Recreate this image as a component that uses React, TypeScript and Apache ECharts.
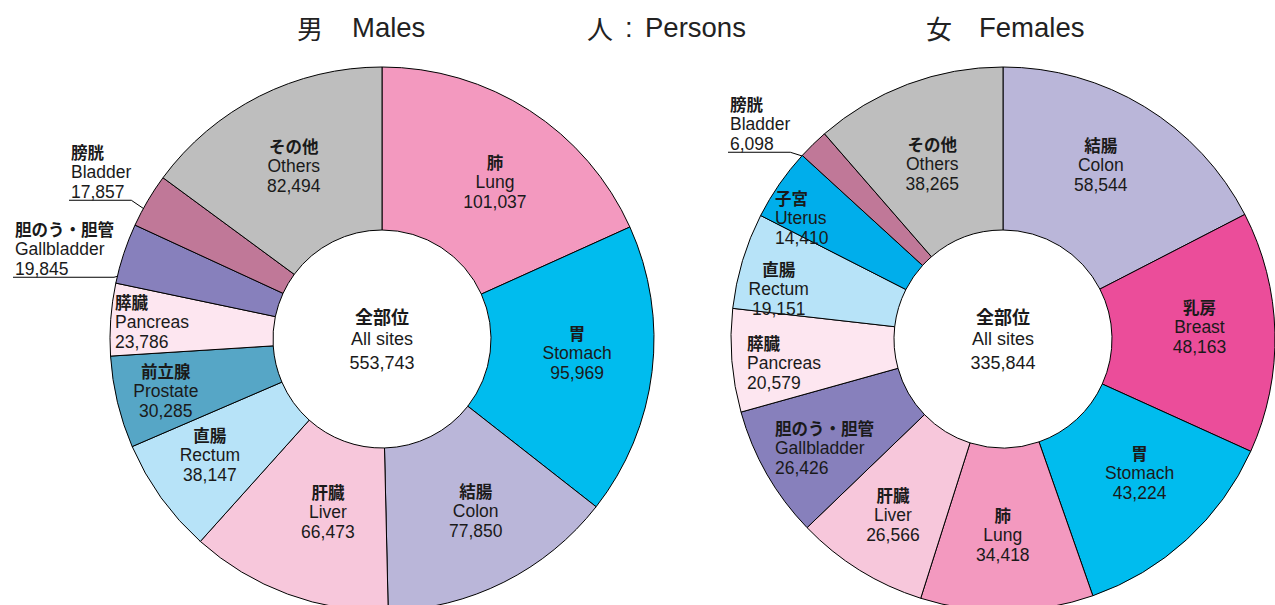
import React, { useEffect, useRef } from "react";
import * as echarts from "echarts";

// ---------- Data ----------
const maleSitesJa = ["肺", "胃", "結腸", "肝臓", "直腸", "前立腺", "膵臓", "胆のう・胆管", "膀胱", "その他"];
const maleSitesEn = ["Lung", "Stomach", "Colon", "Liver", "Rectum", "Prostate", "Pancreas", "Gallbladder", "Bladder", "Others"];
const maleCases = [101037, 95969, 77850, 66473, 38147, 30285, 23786, 19845, 17857, 82494];

const femaleSitesJa = ["結腸", "乳房", "胃", "肺", "肝臓", "胆のう・胆管", "膵臓", "直腸", "子宮", "膀胱", "その他"];
const femaleSitesEn = ["Colon", "Breast", "Stomach", "Lung", "Liver", "Gallbladder", "Pancreas", "Rectum", "Uterus", "Bladder", "Others"];
const femaleCases = [58544, 48163, 43224, 34418, 26566, 26426, 20579, 19151, 14410, 6098, 38265];

const centerLabelJa = "全部位";
const centerLabelEn = "All sites";

// ---------- Styles / layout ----------
const siteColors: Record<string, string> = {
  Lung: "#F399BF",
  Stomach: "#00BCEE",
  Colon: "#BAB6D9",
  Liver: "#F7C7DB",
  Rectum: "#B7E3F8",
  Prostate: "#56A6C6",
  Pancreas: "#FDE6F0",
  Gallbladder: "#8780BC",
  Bladder: "#C07898",
  Others: "#BEBEBE",
  Breast: "#EB4D9A",
  Uterus: "#00AEEB",
};

const OUTER_R = 272;
const INNER_R = 109;
const MALE_CENTER: [number, number] = [382, 339];
const FEMALE_CENTER: [number, number] = [1003, 339];

type Nudge = { dx: number; dy: number; align?: "left" | "center" };
const maleNudges: Record<string, Nudge> = {
  Lung: { dx: 8, dy: 5 },
  Stomach: { dx: 3, dy: -10 },
  Colon: { dx: 7, dy: -1 },
  Liver: { dx: 13, dy: -9 },
  Rectum: { dx: -15, dy: 3 },
  Prostate: { dx: -28, dy: 7 },
  Pancreas: { dx: -74, dy: -3, align: "left" },
  Others: { dx: -1, dy: -1 },
};
const femaleNudges: Record<string, Nudge> = {
  Colon: { dx: -3, dy: -9 },
  Breast: { dx: 3, dy: -8 },
  Stomach: { dx: 6, dy: -9 },
  Lung: { dx: -3, dy: 2 },
  Liver: { dx: -8, dy: 11 },
  Gallbladder: { dx: -60, dy: 13, align: "left" },
  Pancreas: { dx: -63, dy: 8, align: "left" },
  Rectum: { dx: -39, dy: 5 },
  Uterus: { dx: -69, dy: -11, align: "left" },
  Others: { dx: -3, dy: 6 },
};

type Leader = { x: number; y: number; rf: number; shift: number };
const maleLeaders: Record<string, Leader> = {
  Bladder: { x: 71, y: 142, rf: 0.98, shift: 2 },
  Gallbladder: { x: 15, y: 219, rf: 0.915, shift: 2 },
};
const femaleLeaders: Record<string, Leader> = {
  Bladder: { x: 730, y: 94, rf: 0.95, shift: 2 },
};

const LATIN = '"Liberation Sans", Arial, Helvetica, sans-serif';
const CJK = '"Noto Sans CJK JP", "Noto Sans CJK SC", sans-serif';
const TXT = "#1a1a1a";
const LH = 20;

const fmt = (v: number) => v.toLocaleString("en-US");

const labelRich = {
  j: { fontFamily: CJK, fontWeight: "bold", fontSize: 16.5, lineHeight: LH, color: TXT },
  e: { fontFamily: LATIN, fontSize: 17.5, lineHeight: LH, color: TXT },
  v: { fontFamily: LATIN, fontSize: 17.5, lineHeight: LH, color: TXT },
};

function buildSeries(
  id: string,
  center: [number, number],
  ja: string[],
  en: string[],
  values: number[],
  nudges: Record<string, Nudge>,
  leaders: Record<string, Leader>
) {
  const total = values.reduce((a, b) => a + b, 0);
  const midAngles: number[] = [];
  let cum = 0;
  values.forEach((v) => {
    midAngles.push(90 - ((cum + v / 2) / total) * 360);
    cum += v;
  });

  const data = values.map((v, i) => {
    const leader = leaders[en[i]];
    const item: any = {
      name: en[i],
      value: v,
      ja: ja[i],
      itemStyle: { color: siteColors[en[i]] },
    };
    if (leader) {
      item.label = { position: "outside" };
      item.labelLine = { show: true, length: 10, length2: 10, lineStyle: { color: "#000", width: 1 } };
    }
    return item;
  });

  return {
    type: "pie",
    id,
    center,
    radius: [INNER_R, OUTER_R],
    startAngle: 90,
    clockwise: true,
    avoidLabelOverlap: false,
    silent: true,
    emphasis: { disabled: true },
    itemStyle: { borderColor: "#000", borderWidth: 1 },
    label: {
      show: true,
      position: "inside",
      formatter: (p: any) => `{j|${p.data.ja}}\n{e|${p.name}}\n{v|${fmt(p.value)}}`,
      rich: labelRich,
    },
    labelLine: { show: false },
    data,
    labelLayout: (params: any) => {
      const name = en[params.dataIndex];
      const rect = params.labelRect;
      const leader = leaders[name];
      if (leader) {
        const ang = ((midAngles[params.dataIndex] + leader.shift) * Math.PI) / 180;
        const r = OUTER_R * leader.rf;
        const ax = center[0] + r * Math.cos(ang);
        const ay = center[1] - r * Math.sin(ang);
        const yU = leader.y + rect.height + 1;
        return {
          x: leader.x,
          y: leader.y,
          align: "left",
          verticalAlign: "top",
          labelLinePoints: [
            [ax, ay],
            [leader.x + rect.width, yU],
            [leader.x - 2, yU],
          ],
        };
      }
      const n = nudges[name] || { dx: 0, dy: 0 };
      const cx0 = rect.x + rect.width / 2;
      const cy0 = rect.y + rect.height / 2;
      return {
        x: cx0 + n.dx,
        y: cy0 + n.dy,
        align: n.align || "center",
        verticalAlign: "middle",
      };
    },
  };
}

function centerText(center: [number, number], values: number[]) {
  const total = values.reduce((a, b) => a + b, 0);
  return {
    type: "text",
    x: center[0],
    y: center[1],
    silent: true,
    style: {
      text: `{a|${centerLabelJa}}\n{b|${centerLabelEn}}\n{b|${fmt(total)}}`,
      align: "center",
      verticalAlign: "middle",
      rich: {
        a: { fontFamily: CJK, fontWeight: "bold", fontSize: 18, lineHeight: 23.5, fill: TXT },
        b: { fontFamily: LATIN, fontSize: 18, lineHeight: 23.5, fill: TXT },
      },
    },
  };
}

const TITLE_Y = 27;
function titleText(text: string, x: number, cjk: boolean) {
  return {
    type: "text",
    x,
    y: TITLE_Y,
    silent: true,
    style: {
      text,
      fill: "#222",
      fontSize: cjk ? 26 : 27.5,
      fontFamily: cjk ? CJK : LATIN,
      align: "left",
      verticalAlign: "middle",
    },
  };
}

export default function App() {
  const ref = useRef<HTMLDivElement>(null);
  useEffect(() => {
    if (!ref.current) return;
    const chart = echarts.init(ref.current, null, { renderer: "svg" });
    chart.setOption({
      animation: false,
      backgroundColor: "#ffffff",
      series: [
        buildSeries("male", MALE_CENTER, maleSitesJa, maleSitesEn, maleCases, maleNudges, maleLeaders),
        buildSeries("female", FEMALE_CENTER, femaleSitesJa, femaleSitesEn, femaleCases, femaleNudges, femaleLeaders),
      ],
      graphic: [
        centerText(MALE_CENTER, maleCases),
        centerText(FEMALE_CENTER, femaleCases),
        titleText("男", 297, true),
        titleText("Males", 352, false),
        titleText("人", 587, true),
        titleText(":", 625, false),
        titleText("Persons", 645, false),
        titleText("女", 926, true),
        titleText("Females", 979, false),
      ],
    });
    return () => chart.dispose();
  }, []);
  return (
    <div
      ref={ref}
      style={{ position: "absolute", left: 0, top: 0, width: 1275, height: 605, background: "#fff" }}
    />
  );
}
